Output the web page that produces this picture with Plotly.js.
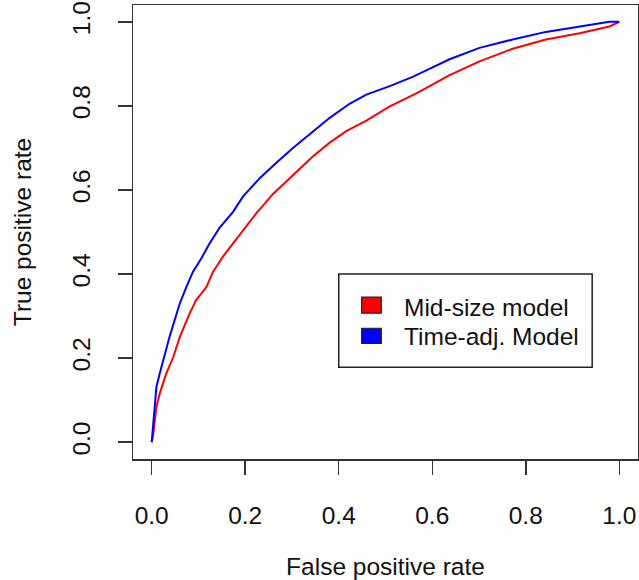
<!DOCTYPE html>
<html>
<head>
<meta charset="utf-8">
<script src="https://cdn.plot.ly/plotly-3.0.1.min.js"></script>
<style>html,body{margin:0;padding:0;background:#fff;}#chart{width:639px;height:580px;}</style>
</head>
<body>
<div id="chart"></div>
<script>
// Series names
var seriesNames = ["Mid-size model", "Time-adj. Model"];

// Mid-size model ROC (red)
var midFpr = [0, 0.003, 0.010, 0.017, 0.031, 0.046, 0.060, 0.081, 0.095, 0.117, 0.131, 0.152, 0.174, 0.202, 0.224, 0.259, 0.302, 0.345, 0.380, 0.416, 0.459, 0.509, 0.566, 0.615, 0.637, 0.701, 0.772, 0.843, 0.915, 0.979, 1.0];
var midTpr = [0, 0.016, 0.083, 0.115, 0.163, 0.202, 0.250, 0.306, 0.338, 0.369, 0.405, 0.441, 0.473, 0.513, 0.545, 0.590, 0.636, 0.680, 0.712, 0.740, 0.765, 0.799, 0.830, 0.860, 0.873, 0.906, 0.936, 0.958, 0.973, 0.989, 1.0];

// Time-adjusted model ROC (blue)
var timeFpr = [0, 0.0064, 0.010, 0.017, 0.028, 0.038, 0.049, 0.060, 0.074, 0.088, 0.106, 0.124, 0.145, 0.174, 0.195, 0.231, 0.266, 0.302, 0.345, 0.380, 0.423, 0.459, 0.509, 0.558, 0.594, 0.637, 0.701, 0.772, 0.843, 0.915, 0.979, 1.0];
var timeTpr = [0, 0.083, 0.131, 0.163, 0.210, 0.250, 0.290, 0.330, 0.369, 0.405, 0.437, 0.473, 0.510, 0.548, 0.584, 0.628, 0.664, 0.700, 0.739, 0.771, 0.805, 0.827, 0.847, 0.869, 0.888, 0.911, 0.938, 0.958, 0.976, 0.989, 1.0, 1.0];

// Axis ticks
var tickValues = [0, 0.2, 0.4, 0.6, 0.8, 1.0];
var tickLabels = ["0.0", "0.2", "0.4", "0.6", "0.8", "1.0"];

var colors = ["#ff0000", "#0000ff"];
var FONT = "Liberation Sans, Arial, Helvetica, sans-serif";
var FS = 24.5;

var traces = [
  {x: midFpr, y: midTpr, type: "scatter", mode: "lines", name: seriesNames[0],
   line: {color: colors[0], width: 2}, showlegend: false, hoverinfo: "skip"},
  {x: timeFpr, y: timeTpr, type: "scatter", mode: "lines", name: seriesNames[1],
   line: {color: colors[1], width: 2}, showlegend: false, hoverinfo: "skip"}
];

// Legend (drawn as shapes + text, R style)
var legX0 = 0.4, legX1 = 0.942, legY0 = 0.178, legY1 = 0.4;
var sqX0 = 0.449, sqX1 = 0.491;
var sqY = [[0.307, 0.345], [0.235, 0.271]];
var textX = 0.536;
var textY = [0.321, 0.252];

var shapes = [
  {type: "rect", xref: "x", yref: "y", x0: legX0, x1: legX1, y0: legY0, y1: legY1,
   line: {color: "#222", width: 1.5}, fillcolor: "rgba(0,0,0,0)", layer: "above"}
];
var annotations = [];
for (var i = 0; i < seriesNames.length; i++) {
  shapes.push({type: "rect", xref: "x", yref: "y", x0: sqX0, x1: sqX1, y0: sqY[i][0], y1: sqY[i][1],
    line: {color: "#222", width: 1.2}, fillcolor: colors[i], layer: "above"});
  annotations.push({xref: "x", yref: "y", x: textX, y: textY[i], text: seriesNames[i],
    showarrow: false, xanchor: "left", yanchor: "middle",
    font: {family: FONT, size: FS, color: "#111"}});
}

var axisCommon = {
  range: [-0.04, 1.04],
  tickmode: "array", tickvals: tickValues, ticktext: tickLabels,
  ticks: "outside", ticklen: 14, tickwidth: 1.5, tickcolor: "#333",
  showline: true, linecolor: "#333", linewidth: 1.5, mirror: true,
  showgrid: false, zeroline: false,
  tickfont: {family: FONT, size: FS, color: "#111"}
};

var layout = {
  width: 639, height: 580,
  margin: {l: 133, r: 1, t: 5, b: 121},
  paper_bgcolor: "#fff", plot_bgcolor: "#fff",
  font: {family: FONT, size: FS, color: "#111"},
  xaxis: Object.assign({}, axisCommon, {
    ticklabelstandoff: 20,
    title: {text: "False positive rate", font: {family: FONT, size: FS, color: "#111"}, standoff: 35}
  }),
  yaxis: Object.assign({}, axisCommon, {
    tickangle: -90,
    ticklabelstandoff: 18,
    title: {text: "True positive rate", font: {family: FONT, size: FS, color: "#111"}, standoff: 29}
  }),
  shapes: shapes,
  annotations: annotations,
  showlegend: false
};

Plotly.newPlot("chart", traces, layout, {displayModeBar: false, staticPlot: true});
</script>
</body>
</html>
